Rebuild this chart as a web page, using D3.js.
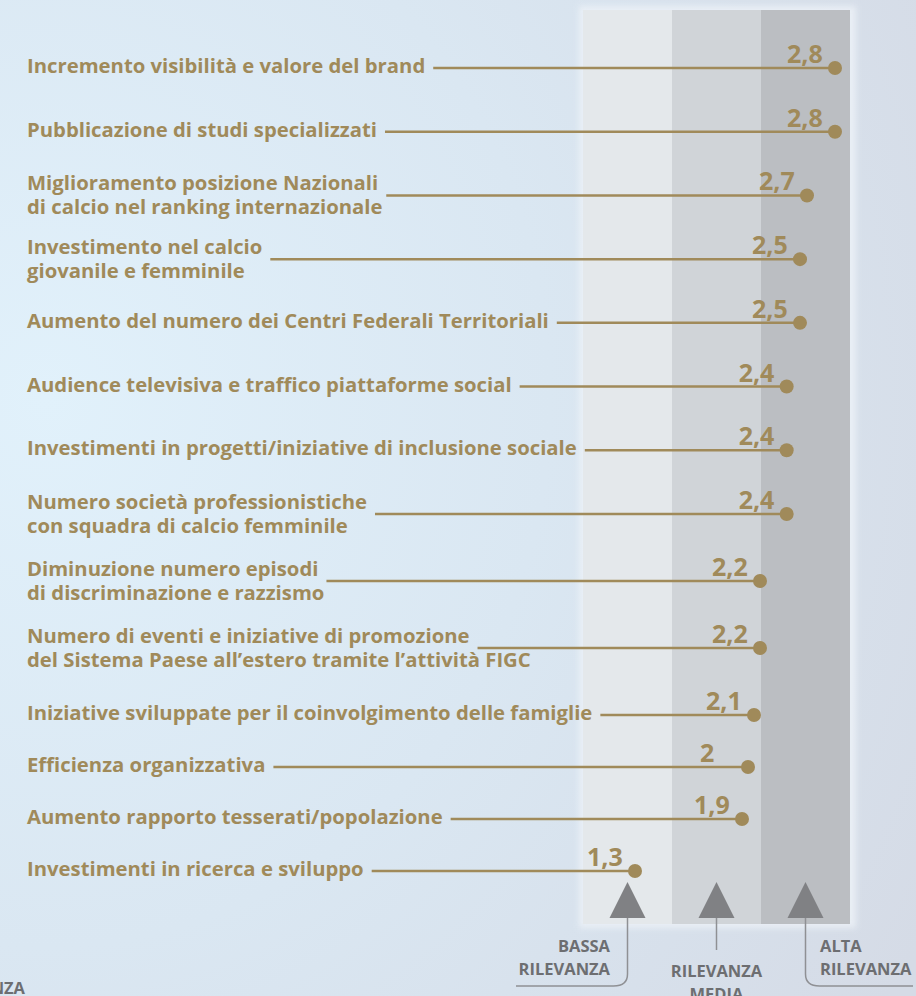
<!DOCTYPE html>
<html>
<head>
<meta charset="utf-8">
<script src="https://cdn.jsdelivr.net/npm/d3@7"></script>
<style>
  html, body { margin: 0; padding: 0; overflow: hidden; }
  body { width: 916px; height: 996px; }
  text { font-family: "Open Sans", "Lato", sans-serif; font-weight: 700; }
</style>
</head>
<body>
<div id="chart"></div>
<script>
// Data
const labels = [
  "Incremento visibilità e valore del brand",
  "Pubblicazione di studi specializzati",
  "Miglioramento posizione Nazionali\ndi calcio nel ranking internazionale",
  "Investimento nel calcio\ngiovanile e femminile",
  "Aumento del numero dei Centri Federali Territoriali",
  "Audience televisiva e traffico piattaforme social",
  "Investimenti in progetti/iniziative di inclusione sociale",
  "Numero società professionistiche\ncon squadra di calcio femminile",
  "Diminuzione numero episodi\ndi discriminazione e razzismo",
  "Numero di eventi e iniziative di promozione\ndel Sistema Paese all’estero tramite l’attività FIGC",
  "Iniziative sviluppate per il coinvolgimento delle famiglie",
  "Efficienza organizzativa",
  "Aumento rapporto tesserati/popolazione",
  "Investimenti in ricerca e sviluppo"
];
const values = [2.8, 2.8, 2.7, 2.5, 2.5, 2.4, 2.4, 2.4, 2.2, 2.2, 2.1, 2, 1.9, 1.3];
const bandNames = ["BASSA\nRILEVANZA", "RILEVANZA\nMEDIA", "ALTA\nRILEVANZA"];
const bandColors = ["#e4e8eb", "#d0d4d8", "#bbbec2"];

const W = 916, H = 996;
const gold = "#a08a5a";
const grey = "#6d6e71";

const svg = d3.select("#chart").append("svg")
    .attr("width", W)
    .attr("height", H);

// background
const defs = svg.append("defs");
const bg = defs.append("radialGradient")
    .attr("id", "bg")
    .attr("cx", "0.05").attr("cy", "0.4").attr("r", "1.1");
bg.append("stop").attr("offset", "0").attr("stop-color", "#e1f1fb");
bg.append("stop").attr("offset", "0.5").attr("stop-color", "#dae7f2");
bg.append("stop").attr("offset", "1").attr("stop-color", "#d5dbe6");
defs.append("filter").attr("id", "glow")
    .append("feGaussianBlur").attr("stdDeviation", 3);

svg.append("rect")
    .attr("width", W).attr("height", H)
    .attr("fill", "url(#bg)");

// scales
const y = d3.scaleLinear()
    .domain([0, 7, 10, 13])
    .range([68, 514, 715, 871]);

const x = d3.scaleLinear()
    .domain([1.3, 1.9, 2.2, 2.5, 2.7, 2.8])
    .range([635, 742, 760, 800, 807, 835]);

const band = d3.scaleBand()
    .domain(bandNames)
    .range([583, 850]);

const bandTop = 10, bandBottom = 924;
const fmt = d3.formatLocale({decimal: ",", thousands: ".", grouping: [3], currency: ["", "€"]}).format("~g");

// bands
svg.append("rect")
    .attr("x", band.range()[0] - 4)
    .attr("y", bandTop - 4)
    .attr("width", band.range()[1] - band.range()[0] + 10)
    .attr("height", bandBottom - bandTop + 8)
    .attr("fill", "#eef3f8")
    .attr("opacity", 0.8)
    .attr("filter", "url(#glow)");

svg.selectAll(".band")
    .data(bandNames)
    .join("rect")
    .attr("class", "band")
    .attr("x", d => band(d))
    .attr("y", bandTop)
    .attr("width", band.bandwidth())
    .attr("height", bandBottom - bandTop)
    .attr("fill", (d, i) => bandColors[i]);

// triangles
svg.selectAll(".tri")
    .data(bandNames)
    .join("path")
    .attr("class", "tri")
    .attr("d", d => {
        const cx = band(d) + band.bandwidth() / 2;
        return `M${cx},882L${cx + 18},918L${cx - 18},918Z`;
    })
    .attr("fill", "#808184");

// connectors under triangles
const c0 = band(bandNames[0]) + band.bandwidth() / 2;
const c1 = band(bandNames[1]) + band.bandwidth() / 2;
const c2 = band(bandNames[2]) + band.bandwidth() / 2;
const conn = svg.append("g")
    .attr("fill", "none")
    .attr("stroke", "#8f9094")
    .attr("stroke-width", 1.5);
conn.append("path").attr("d", `M${c0},918V974Q${c0},986 ${c0 - 14},986H516`);
conn.append("path").attr("d", `M${c1},918V950`);
conn.append("path").attr("d", `M${c2},918V974Q${c2},986 ${c2 + 14},986H913`);

// band captions
const cap = svg.append("g")
    .attr("fill", grey)
    .style("font-size", "16.5px");
const capText = (txt, xPos, yPos, anchor) => {
    const t = cap.append("text")
        .attr("x", xPos).attr("y", yPos)
        .attr("text-anchor", anchor);
    txt.split("\n").forEach((s, i) => {
        t.append("tspan").attr("x", xPos).attr("dy", i ? 23 : 0).text(s);
    });
};
capText(bandNames[0], 610, 952, "end");
capText(bandNames[1], c1, 977, "middle");
capText(bandNames[2], 820, 952, "start");
cap.append("text").attr("x", 25).attr("y", 994).attr("text-anchor", "end").text("RILEVANZA");

// rows
const rows = svg.selectAll(".row")
    .data(labels)
    .join("g")
    .attr("class", "row");

rows.each(function(d, i) {
    const g = d3.select(this);
    const yy = y(i);
    const parts = d.split("\n");
    const t = g.append("text")
        .attr("fill", gold)
        .style("font-size", "20.3px");
    parts.forEach((s, k) => {
        t.append("tspan")
            .attr("x", 27)
            .attr("y", parts.length === 1 ? yy + 5 : yy - 5 + k * 24)
            .text(s);
    });
    const first = t.select("tspan").node().getComputedTextLength();
    const x0 = 27 + first + 8;
    g.append("line")
        .attr("x1", x0).attr("x2", x(values[i]))
        .attr("y1", yy).attr("y2", yy)
        .attr("stroke", gold)
        .attr("stroke-width", 2.5);
    g.append("circle")
        .attr("cx", x(values[i])).attr("cy", yy)
        .attr("r", 7)
        .attr("fill", gold);
    g.append("text")
        .attr("x", x(values[i]) - 48)
        .attr("y", yy - 5)
        .attr("fill", gold)
        .style("font-size", "25px")
        .text(fmt(values[i]));
});
</script>
</body>
</html>
